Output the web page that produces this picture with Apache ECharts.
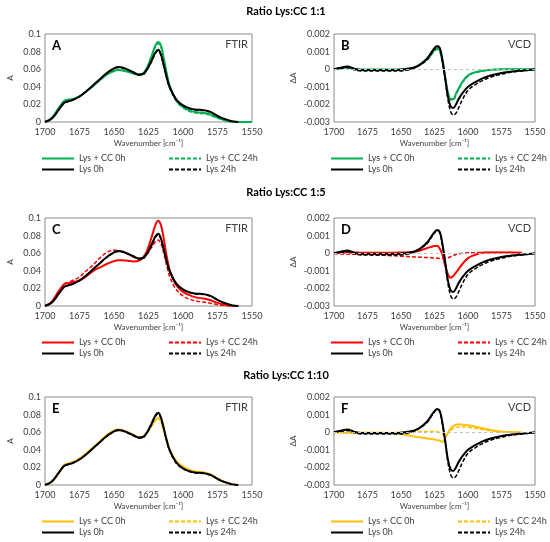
<!DOCTYPE html>
<html>
<head>
<meta charset="utf-8">
<title>Lys:CC FTIR / VCD</title>
<script src="https://cdn.jsdelivr.net/npm/echarts@6/dist/echarts.min.js"></script>
<style>
html, body { margin: 0; padding: 0; background: #fff; }
#main { width: 550px; height: 542px; }
</style>
</head>
<body>
<div id="main"></div>
<script>
// wavenumber grids (cm-1)
var wnIr = [1700,1695,1690,1686,1683,1680,1675,1670,1665,1660,1655,1650,1647,1644,1640,1636,1632,1629,1626,1623,
	1620,1618,1616,1614,1612,1610,1607,1604,1600,1595,1590,1585,1580,1575,1570,1565,1560,1555,1550];
var wnVcd = [1700,1695,1690,1685,1680,1675,1670,1665,1660,1655,1650,1645,1640,1635,1630,1626,1623,1621,1619,1617,
	1615,1613,1611,1609,1607,1604,1600,1595,1590,1585,1580,1575,1570,1565,1560,1555,1550];

// Lys control (same in every ratio)
var lysIr0h = [0,0.004,0.014,0.022,0.0235,0.025,0.029,0.035,0.042,0.049,0.056,0.061,0.0625,0.062,0.0595,0.0565,0.054,0.0545,0.060,0.069,
	0.079,0.082,0.077,0.065,0.052,0.041,0.031,0.024,0.019,0.0155,0.014,0.0135,0.0115,0.007,0.0035,0.001,0,null,null];
var lysIr24h = [0,0.004,0.014,0.022,0.0235,0.025,0.029,0.035,0.042,0.049,0.0555,0.0605,0.062,0.0615,0.059,0.056,0.0535,0.054,0.0595,0.068,
	0.078,0.081,0.076,0.064,0.051,0.040,0.030,0.023,0.0185,0.015,0.0135,0.013,0.011,0.0068,0.0033,0.001,0,null,null];
var lysVcd0h = [0,0.00008,0.00015,0.00003,-0.00004,-0.00004,-0.00004,-0.00005,-0.00005,-0.00005,-0.00003,0.00002,0.0001,0.0003,0.00065,0.0011,0.00132,0.0012,0.0005,-0.0005,
	-0.00156,-0.0021,-0.0022,-0.002,-0.0017,-0.00135,-0.001,-0.00075,-0.00055,-0.0004,-0.0003,-0.00022,-0.00016,-0.00011,-0.00008,-0.00005,0];
var lysVcd24h = [0,0.00005,0.0001,-0.00003,-0.0001,-0.0001,-0.0001,-0.0001,-0.0001,-0.0001,-0.0001,-0.00005,0.00008,0.00028,0.0006,0.00105,0.00128,0.00115,0.0004,-0.0006,
	-0.0017,-0.0024,-0.0026,-0.0025,-0.0022,-0.0017,-0.0012,-0.0009,-0.00068,-0.0005,-0.00038,-0.00028,-0.0002,-0.00014,-0.0001,-0.00006,-0.00002];

// Lys + CC, ratio 1:1
var cc1Ir0h = [0,0.005,0.016,0.024,0.0255,0.026,0.029,0.035,0.041,0.048,0.054,0.058,0.059,0.0585,0.057,0.055,0.0535,0.055,0.062,0.074,
	0.087,0.091,0.087,0.073,0.057,0.043,0.031,0.023,0.017,0.013,0.011,0.0105,0.0085,0.005,0.002,0.0005,0,0,0];
var cc1Ir24h = [0,0.005,0.016,0.024,0.0255,0.026,0.029,0.035,0.041,0.048,0.0545,0.0585,0.0595,0.059,0.0575,0.0555,0.054,0.0555,0.062,0.073,
	0.085,0.089,0.085,0.071,0.056,0.042,0.030,0.022,0.016,0.012,0.010,0.0095,0.0075,0.0045,0.002,0.0005,0,0,0];
var cc1Vcd0h = [0,0.00005,0.0001,0.00002,-0.00002,-0.00002,-0.00002,-0.00002,-0.00002,-0.00002,-0.00001,0.00002,0.0001,0.0003,0.0006,0.001,0.0012,0.00108,0.0004,-0.0005,
	-0.0013,-0.0017,-0.0017,-0.0014,-0.0011,-0.0007,-0.00035,-0.00018,-0.0001,-0.00005,-0.00002,0,0,0,0,0,0];
var cc1Vcd24h = [0,0.00006,0.0001,0.00001,-0.00003,-0.00003,-0.00003,-0.00003,-0.00003,-0.00003,-0.00002,0.00001,0.00009,0.00027,0.00055,0.00095,0.00112,0.001,0.00035,-0.00055,
	-0.00135,-0.00175,-0.00175,-0.00145,-0.00115,-0.00075,-0.0004,-0.0002,-0.00011,-0.00006,-0.00003,-0.00001,0,0,0,0,0];

// Lys + CC, ratio 1:5
var cc5Ir0h = [0,0.005,0.017,0.025,0.026,0.027,0.029,0.034,0.040,0.044,0.048,0.051,0.052,0.052,0.0515,0.0505,0.0515,0.055,0.063,0.077,
	0.092,0.097,0.092,0.077,0.058,0.043,0.030,0.022,0.016,0.012,0.0095,0.0085,0.0065,0.0035,0.0015,0.0004,0,null,null];
var cc5Ir24h = [0,0.005,0.017,0.025,0.027,0.029,0.033,0.040,0.047,0.055,0.061,0.0635,0.063,0.0615,0.059,0.056,0.054,0.055,0.059,0.066,
	0.073,0.075,0.071,0.060,0.047,0.035,0.024,0.017,0.0115,0.0075,0.0055,0.0045,0.003,0.0015,0.0005,0,0,null,null];
var cc5Vcd0h = [0,0.00003,0.00004,0.00004,0.00003,0.00003,0.00003,0.00003,0.00003,0.00003,0.00004,0.00004,0.00008,0.00017,0.0003,0.0004,0.00042,0.00025,-0.0001,-0.0007,
	-0.0012,-0.0014,-0.0013,-0.0011,-0.0009,-0.0006,-0.00028,-0.0001,0.00002,0.00004,0.00004,0.00004,0.00004,0.00004,0.00003,null,null];
var cc5Vcd24h = [-0.00002,-0.00004,-0.00005,-0.00006,-0.00007,-0.00008,-0.0001,-0.00011,-0.00013,-0.00015,-0.00017,-0.00019,-0.00021,-0.00023,-0.00025,-0.00027,-0.00029,-0.0003,-0.0003,-0.00029,
	-0.00026,-0.0002,-0.00013,-0.00007,-0.00003,0,0.00002,0.00003,0.00004,0.00004,0.00004,0.00004,0.00004,0.00003,0.00003,null,null];

// Lys + CC, ratio 1:10
var cc10Ir0h = [0,0.004,0.014,0.023,0.0245,0.026,0.030,0.036,0.043,0.050,0.057,0.062,0.063,0.0625,0.060,0.057,0.0545,0.055,0.060,0.067,
	0.074,0.076,0.073,0.063,0.052,0.042,0.032,0.026,0.021,0.017,0.015,0.0145,0.012,0.0075,0.0035,0.001,0,null,null];
var cc10Ir24h = [0,0.004,0.014,0.023,0.0245,0.026,0.030,0.036,0.043,0.050,0.0565,0.0615,0.0625,0.062,0.0595,0.0565,0.054,0.0545,0.0595,0.066,
	0.073,0.0755,0.072,0.062,0.051,0.041,0.031,0.025,0.020,0.0165,0.0145,0.014,0.0115,0.007,0.0033,0.001,0,null,null];
var cc10Vcd0h = [0,-0.00002,-0.00003,-0.00003,-0.00003,-0.00003,-0.00003,-0.00003,-0.00005,-0.00007,-0.0001,-0.00017,-0.00024,-0.0003,-0.00036,-0.0004,-0.00045,-0.00048,-0.00055,-0.0003,
	-0.00005,0.0002,0.00035,0.00042,0.00045,0.00043,0.0004,0.00032,0.00024,0.00015,0.00008,0.00003,0.00001,0,0,null,null];
var cc10Vcd24h = [0,-0.00001,-0.00002,-0.00002,-0.00002,-0.00002,-0.00002,-0.00002,-0.00002,-0.00001,0,0.00001,0.00003,0.00004,0.00004,0.00004,0.00002,-0.00003,-0.00012,-0.0002,
	-0.00008,0.00008,0.0002,0.00027,0.0003,0.0003,0.00028,0.00022,0.00016,0.0001,0.00006,0.00003,0.00001,0,0,null,null];

var seriesNames = ['Lys + CC 0h', 'Lys + CC 24h', 'Lys 0h', 'Lys 24h'];
var ratioTitles = ['Ratio Lys:CC 1:1', 'Ratio Lys:CC 1:5', 'Ratio Lys:CC 1:10'];

// layout of the six panels
var panels = [
	{ id: 'A', kind: 'FTIR', left: 45, top: 34, width: 207, color: '#00b050', cc: [cc1Ir0h, cc1Ir24h] },
	{ id: 'B', kind: 'VCD', left: 334, top: 34, width: 201, color: '#00b050', cc: [cc1Vcd0h, cc1Vcd24h] },
	{ id: 'C', kind: 'FTIR', left: 45, top: 218, width: 207, color: '#ff0000', cc: [cc5Ir0h, cc5Ir24h] },
	{ id: 'D', kind: 'VCD', left: 334, top: 218, width: 201, color: '#ff0000', cc: [cc5Vcd0h, cc5Vcd24h] },
	{ id: 'E', kind: 'FTIR', left: 45, top: 397, width: 207, color: '#ffc000', cc: [cc10Ir0h, cc10Ir24h] },
	{ id: 'F', kind: 'VCD', left: 334, top: 397, width: 201, color: '#ffc000', cc: [cc10Vcd0h, cc10Vcd24h] }
];
var plotH = 88;
var titleY = [11, 192, 375];

function pairs(xs, ys) {
	return xs.map(function(x, i) { return [x, ys[i]]; });
}

var grids = [], xAxes = [], yAxes = [], series = [], legends = [], texts = [];
var txt = '#404040';

panels.forEach(function(p, i) {
	var ir = p.kind == 'FTIR';
	var xs = ir ? wnIr : wnVcd;
	var lys = ir ? [lysIr0h, lysIr24h] : [lysVcd0h, lysVcd24h];
	grids.push({ left: p.left, top: p.top, width: p.width, height: plotH, show: true, borderColor: '#8c8c8c', borderWidth: 1 });
	xAxes.push({
		gridIndex: i, type: 'value', min: 1550, max: 1700, interval: 25, inverse: true,
		name: 'Wavenumber [cm\u207B\u00B9]', nameLocation: 'middle', nameGap: 17,
		nameTextStyle: { fontSize: 8, color: txt },
		axisLine: { show: false }, axisTick: { show: false }, splitLine: { show: false },
		axisLabel: { fontSize: 9, color: txt, margin: 6, formatter: function(v) { return String(v); } }
	});
	yAxes.push({
		gridIndex: i, type: 'value',
		min: ir ? 0 : -0.003, max: ir ? 0.1 : 0.002, interval: ir ? 0.02 : 0.001,
		name: ir ? 'A' : '\u0394A', nameLocation: 'middle', nameRotate: 90, nameGap: ir ? 31 : 37,
		nameTextStyle: { fontSize: 8, color: txt },
		axisLine: { show: false }, axisTick: { show: false }, splitLine: { show: false },
		axisLabel: { fontSize: 9, color: txt, margin: 4 }
	});
	var cols = [p.color, p.color, '#000', '#000'];
	var vals = [p.cc[0], p.cc[1], lys[0], lys[1]];
	seriesNames.forEach(function(n, k) {
		var s = {
			name: p.id + '|' + n, type: 'line', xAxisIndex: i, yAxisIndex: i,
			data: pairs(xs, vals[k]), symbol: 'none', smooth: 0.35,
			itemStyle: { color: cols[k] },
			lineStyle: { color: cols[k], width: k % 2 ? 1.5 : 2, type: k % 2 ? [4, 2] : 'solid' }
		};
		if (!ir && k == 0) {
			// grey zero line of the VCD plots
			s.markLine = {
				silent: true, symbol: 'none', label: { show: false },
				lineStyle: { color: '#bfbfbf', type: [3, 3], width: 1 },
				data: [ { yAxis: 0 } ]
			};
		}
		series.push(s);
	});
	// two legend columns below each plot
	var lx = p.left - 9;
	[[0, 2], [1, 3]].forEach(function(pair, c) {
		legends.push({
			data: [p.id + '|' + seriesNames[pair[0]], p.id + '|' + seriesNames[pair[1]]],
			orient: 'vertical', left: lx + c * 127, top: p.top + plotH + 27,
			itemWidth: 32, itemHeight: 10, itemGap: 2, selectedMode: false,
			itemStyle: { opacity: 0 },
			textStyle: { fontSize: 9, color: txt },
			formatter: function(n) { return n.split('|')[1]; }
		});
	});
	texts.push({ type: 'text', left: p.left + 7, top: p.top + 5,
		style: { text: p.id, font: 'bold 13px Lato', fill: '#000' } });
	texts.push({ type: 'text', right: 550 - p.left - p.width + 4, top: p.top + 5,
		style: { text: p.kind, font: '11px Lato', fill: txt } });
});

ratioTitles.forEach(function(t, r) {
	texts.push({ type: 'text', x: 286, y: titleY[r],
		style: { text: t, font: 'bold 11px Lato', fill: '#000', textAlign: 'center', textVerticalAlign: 'middle' } });
});

var chart = echarts.init(document.getElementById('main'));
chart.setOption({
	animation: false,
	textStyle: { fontFamily: 'Lato' },
	grid: grids,
	xAxis: xAxes,
	yAxis: yAxes,
	legend: legends,
	graphic: texts,
	series: series
});
</script>
</body>
</html>
